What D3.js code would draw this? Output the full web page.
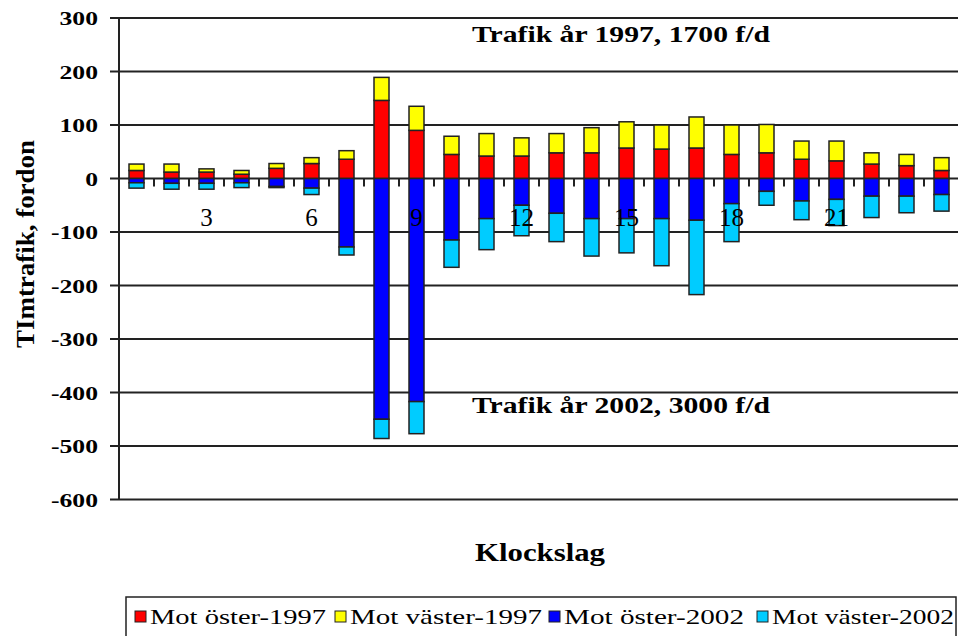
<!DOCTYPE html>
<meta charset="utf-8">
<style>
body { margin: 0; background: #fff; }
text { font-family: "Liberation Serif", "Times New Roman", serif; fill: #000; }
.grid line { stroke: #222; stroke-width: 2; }
.bar rect { stroke: #222; stroke-width: 1.5; }
</style>
<body>
<svg width="958" height="636"></svg>
<script src="https://d3js.org/d3.v7.min.js"></script>
<script>

// hours 1..24
var hours = d3.range(1, 25);

// 1997 (positive, per direction)
var ost1997   = [15, 12, 12, 8, 19, 28, 36, 146, 90, 45, 42, 42, 48, 48, 57, 55, 57, 45, 48, 36, 33, 27, 24, 15];
var vaster1997 = [12, 15, 6, 7, 9, 11, 16, 43, 45, 34, 42, 34, 36, 47, 49, 45, 58, 55, 53, 34, 37, 21, 21, 24];
// 2002 (drawn below zero)
var ost2002   = [-8, -9, -9, -8, -15, -18, -128, -450, -417, -115, -75, -50, -65, -75, -75, -75, -78, -47, -24, -42, -39, -33, -33, -30];
var vaster2002 = [-10, -11, -11, -9, -2, -12, -15, -36, -60, -51, -58, -57, -53, -70, -64, -88, -139, -71, -26, -35, -49, -40, -31, -31];

var seriesNames = ["Mot öster-1997", "Mot väster-1997", "Mot öster-2002", "Mot väster-2002"];
var seriesColors = ["#ff0000", "#ffff00", "#0000ff", "#00ccff"];
var yTicks = [300, 200, 100, 0, -100, -200, -300, -400, -500, -600];
var xLabels = [3, 6, 9, 12, 15, 18, 21];

var svg = d3.select("svg");

var x = d3.scaleBand()
	.domain(hours)
	.range([119, 959]);

var y = d3.scaleLinear()
	.domain([-600, 300])
	.range([499.5, 18]);

// table for the stack
var table = hours.map(function(h, i){
	return { hour: h, s0: ost1997[i], s1: vaster1997[i], s2: ost2002[i], s3: vaster2002[i] };
});

var stack = d3.stack()
	.keys(["s0", "s1", "s2", "s3"])
	.offset(d3.stackOffsetDiverging);
var layers = stack(table);

// gridlines
svg.append("g")
	.attr("class", "grid")
	.selectAll("line")
	.data(yTicks)
	.enter().append("line")
	.attr("x1", 110)
	.attr("x2", 958)
	.attr("y1", function(d){ return y(d); })
	.attr("y2", function(d){ return y(d); });

// y axis line
svg.append("line")
	.attr("x1", 119).attr("x2", 119)
	.attr("y1", y(300)).attr("y2", y(-600))
	.style("stroke", "#222").style("stroke-width", 2);

// y tick labels (the original font is rendered wide, so stretch horizontally)
svg.append("g")
	.selectAll("text")
	.data(yTicks)
	.enter().append("text")
	.attr("transform", function(d){ return "translate(98," + (y(d) + 7) + ") scale(1.35,1)"; })
	.attr("text-anchor", "end")
	.style("font-size", "19px")
	.style("font-weight", "bold")
	.text(function(d){ return d; });

// bars
svg.selectAll(".bar")
	.data(layers)
	.enter().append("g")
	.attr("class", "bar")
	.attr("fill", function(d, i){ return seriesColors[i]; })
	.selectAll("rect")
	.data(function(d){ return d; })
	.enter().append("rect")
	.attr("x", function(d){ return x(d.data.hour) + x.bandwidth() / 2 - 7.5; })
	.attr("width", 15)
	.attr("y", function(d){ return y(Math.max(d[0], d[1])); })
	.attr("height", function(d){ return Math.abs(y(d[0]) - y(d[1])); });

// x tick marks at category boundaries along zero line
svg.append("g")
	.selectAll("line")
	.data(hours)
	.enter().append("line")
	.attr("x1", function(d){ return x(d) + x.bandwidth(); })
	.attr("x2", function(d){ return x(d) + x.bandwidth(); })
	.attr("y1", y(0))
	.attr("y2", y(0) + 8)
	.style("stroke", "#222").style("stroke-width", 2);

// x labels
svg.append("g")
	.selectAll("text")
	.data(xLabels)
	.enter().append("text")
	.attr("x", function(d){ return x(d) + x.bandwidth() / 2; })
	.attr("y", y(0) + 47)
	.attr("text-anchor", "middle")
	.style("font-size", "25px")
	.text(function(d){ return d; });

// annotations
svg.append("text")
	.attr("x", 472).attr("y", 42)
	.attr("textLength", 298).attr("lengthAdjust", "spacingAndGlyphs")
	.style("font-size", "23px").style("font-weight", "bold")
	.text("Trafik år 1997, 1700 f/d");
svg.append("text")
	.attr("x", 472).attr("y", 413)
	.attr("textLength", 298).attr("lengthAdjust", "spacingAndGlyphs")
	.style("font-size", "23px").style("font-weight", "bold")
	.text("Trafik år 2002, 3000 f/d");

// axis titles
svg.append("text")
	.attr("transform", "translate(34,348) rotate(-90)")
	.attr("textLength", 208).attr("lengthAdjust", "spacingAndGlyphs")
	.style("font-size", "25px").style("font-weight", "bold")
	.text("TImtrafik, fordon");
svg.append("text")
	.attr("x", 475).attr("y", 561)
	.attr("textLength", 130).attr("lengthAdjust", "spacingAndGlyphs")
	.style("font-size", "25px").style("font-weight", "bold")
	.text("Klockslag");

// legend
var legend = svg.append("g");
legend.append("rect")
	.attr("x", 126).attr("y", 597)
	.attr("width", 830).attr("height", 45)
	.style("fill", "none").style("stroke", "#222").style("stroke-width", 1.5);

var legendX = [135, 335, 549, 757];
var legendW = [176, 192, 180, 182];
var items = legend.selectAll(".item")
	.data(seriesNames)
	.enter().append("g")
	.attr("transform", function(d, i){ return "translate(" + legendX[i] + ",0)"; });
items.append("rect")
	.attr("x", 0).attr("y", 611)
	.attr("width", 11).attr("height", 11)
	.style("fill", function(d, i){ return seriesColors[i]; })
	.style("stroke", "#222").style("stroke-width", 1);
items.append("text")
	.attr("x", 15).attr("y", 624)
	.attr("textLength", function(d, i){ return legendW[i]; })
	.attr("lengthAdjust", "spacingAndGlyphs")
	.style("font-size", "22px")
	.text(function(d){ return d; });

</script>
</body>
</html>
